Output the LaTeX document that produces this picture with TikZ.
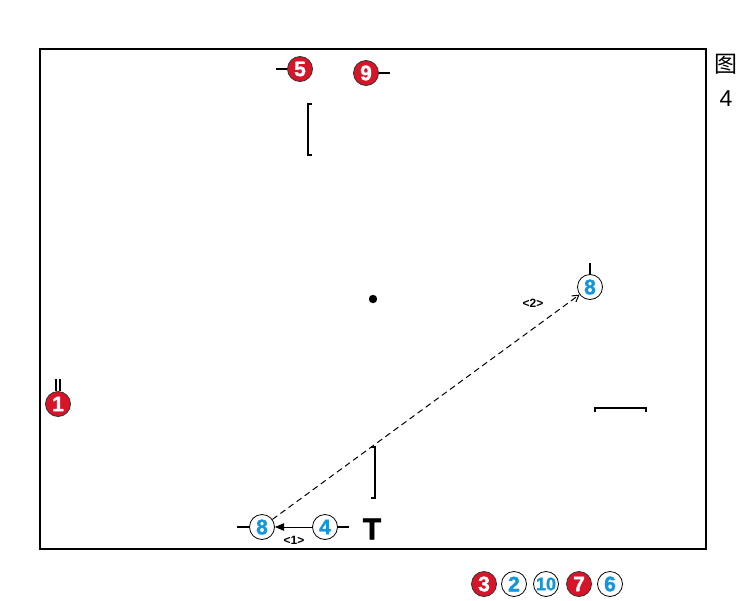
\documentclass[tikz,border=0pt]{standalone}
\usepackage{fontspec}
\setmainfont{Liberation Sans}
\newfontfamily\cjk{Noto Sans CJK SC}
\newfontfamily\heavy{Liberation Sans}[BoldFeatures={FakeBold=1.6}]
\usetikzlibrary{positioning,arrows.meta}
\definecolor{pred}{RGB}{215,20,40}
\definecolor{pblue}{RGB}{20,150,220}
\tikzset{
  redp/.style={circle,draw=black!80,line width=0.8pt,fill=pred,text=white,
    minimum size=25pt,inner sep=0pt,font=\heavy\fontsize{21}{21}\selectfont\bfseries},
  bluep/.style={circle,draw=black,line width=0.8pt,fill=white,text=pblue,
    minimum size=25pt,inner sep=0pt,font=\heavy\fontsize{21}{21}\selectfont\bfseries},
  tick/.style={line width=1.3pt},
  brk/.style={line width=1.6pt},
  pass/.style={dash pattern=on 6pt off 4pt,line width=1pt,-{Straight Barb[length=2.2mm,width=2.6mm]}},
  run/.style={line width=1pt,-{Triangle[length=3.2mm,width=2.6mm]}},
  lbl/.style={font=\fontsize{12}{12}\selectfont\bfseries,inner sep=1pt},
}
\begin{document}
\begin{tikzpicture}[x=1pt,y=-1pt]
  \useasboundingbox (0,0) rectangle (747,600);
  \draw[line width=2.2pt] (40,49) rectangle (706,549);
  \node[font=\cjk\fontsize{23}{23}\selectfont] (fig) at (726,64) {图};
  \node[font=\fontsize{23}{23}\selectfont] (fignum) at (726,99) {4};
  % players on the field
  \node[redp] (p5) at (300,69) {5};
  \draw[tick] (p5.west) -- ++(-11,0);
  \node[redp] (p9) at (366,73) {9};
  \draw[tick] (p9.east) -- ++(11,0);
  \node[redp] (p1) at (58,404) {1};
  \draw[tick] ([xshift=-2pt]p1.north) -- ++(0,-12);
  \draw[tick] ([xshift=2pt]p1.north) -- ++(0,-12);
  \node[bluep] (p8b) at (590,287) {8};
  \draw[tick] (p8b.north) -- ++(0,-11);
  \node[bluep] (p8a) at (262,527) {8};
  \draw[tick] (p8a.west) -- ++(-12,0);
  \node[bluep] (p4) at (325,527) {4};
  \draw[tick] (p4.east) -- ++(11,0);
  \node[font=\heavy\fontsize{30}{30}\selectfont\bfseries] (t) at (372,529) {T};
  \fill (373,299) circle (4.2);
  % brackets
  \draw[brk] (312,104) -- (308,104) -- (308,155) -- (312,155);
  \draw[brk] (595,412) -- (595,408) -- (646,408) -- (646,412);
  \draw[brk] (371,447) -- (375,447) -- (375,498) -- (371,498);
  % moves
  \draw[run] (p4) -- (p8a);
  \node[lbl] (l1) at (294,540) {<1>};
  \draw[pass] (p8a) -- (p8b);
  \node[lbl] (l2) at (533,303) {<2>};
  % legend
  \node[redp] (q3) at (484,584) {3};
  \node[bluep] (q2) at (514,584) {2};
  \node[bluep,font=\heavy\fontsize{18}{18}\selectfont\bfseries] (q10) at (546,584) {10};
  \node[redp] (q7) at (579,584) {7};
  \node[bluep] (q6) at (610,584) {6};
\end{tikzpicture}
\end{document}
